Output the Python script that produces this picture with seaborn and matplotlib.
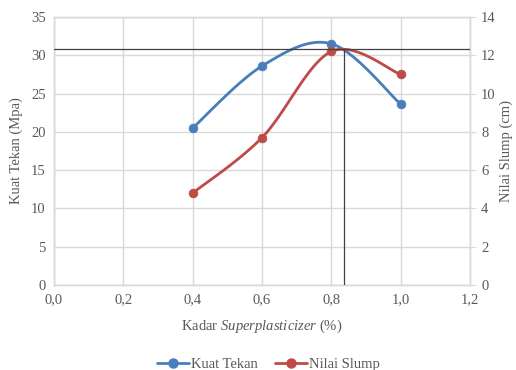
import numpy as np
import matplotlib
matplotlib.use("Agg")
import matplotlib.pyplot as plt
from matplotlib.lines import Line2D
from matplotlib.ticker import FuncFormatter
import seaborn as sns

# data
kadar = [0.4, 0.6, 0.8, 1.0]
kuat_tekan = [20.5, 28.6, 31.5, 23.6]
nilai_slump = [4.8, 7.7, 12.2, 11.0]
ref_x = 0.835
ref_y = 30.8   # on the Kuat Tekan scale

blue = "#4A7EBB"
red = "#BE4B48"
grid_c = "#D9D9D9"
text_c = "#595959"

sns.set_style("white")
plt.rcParams["font.family"] = ["Liberation Serif", "DejaVu Serif"]
plt.rcParams["mathtext.fontset"] = "custom"
plt.rcParams["mathtext.rm"] = "Liberation Serif"
plt.rcParams["mathtext.it"] = "Liberation Serif:italic"


def smooth(x, y, n=40):
    # Excel style smoothed line (Catmull-Rom as cubic Bezier)
    p = np.column_stack([x, y]).astype(float)
    p = np.vstack([p[0], p, p[-1]])
    t = np.linspace(0, 1, n)[:, None]
    out = []
    for i in range(1, len(p) - 2):
        p0, p1, p2, p3 = p[i - 1], p[i], p[i + 1], p[i + 2]
        b1 = p1 + (p2 - p0) / 6
        b2 = p2 - (p3 - p1) / 6
        seg = ((1 - t) ** 3) * p1 + 3 * ((1 - t) ** 2) * t * b1 + 3 * (1 - t) * t ** 2 * b2 + t ** 3 * p2
        out.append(seg)
    c = np.vstack(out)
    return c[:, 0], c[:, 1]


fig, ax = plt.subplots(figsize=(5.16, 3.70), dpi=100)
fig.subplots_adjust(left=0.1047, right=0.911, top=0.954, bottom=0.23)
ax2 = ax.twinx()

sx, sy = smooth(kadar, kuat_tekan)
sns.lineplot(x=sx, y=sy, ax=ax, color=blue, lw=2.0, sort=False, estimator=None)
sns.scatterplot(x=kadar, y=kuat_tekan, ax=ax, color=blue, s=40, edgecolor=blue, zorder=3)

sx, sy = smooth(kadar, nilai_slump)
sns.lineplot(x=sx, y=sy, ax=ax2, color=red, lw=2.0, sort=False, estimator=None)
sns.scatterplot(x=kadar, y=nilai_slump, ax=ax2, color=red, s=40, edgecolor=red, zorder=3)

# reference lines
ax2.plot([0, 1.2], [ref_y * 14 / 35] * 2, color="#404040", lw=0.9, zorder=5)
ax2.plot([ref_x, ref_x], [0, ref_y * 14 / 35], color="#404040", lw=0.9, zorder=5)

ax.set_xlim(0, 1.2)
ax.set_ylim(0, 35)
ax2.set_ylim(0, 14)
ax.set_xticks(np.arange(0, 1.21, 0.2))
ax.set_yticks(np.arange(0, 36, 5))
ax2.set_yticks(np.arange(0, 15, 2))
ax.xaxis.set_major_formatter(FuncFormatter(lambda v, _: f"{v:.1f}".replace(".", ",")))

ax.grid(True, color=grid_c, lw=1.0)
ax.set_axisbelow(True)
for a in (ax, ax2):
    for s in a.spines.values():
        s.set_color(grid_c)
        s.set_linewidth(1.0)
    a.tick_params(labelsize=10.5, labelcolor=text_c)
ax.tick_params(axis="both", length=0, pad=6)
ax2.tick_params(axis="y", length=4, color=grid_c, pad=4)

ax.set_xlabel(r"Kadar $\mathit{Superplasticizer}$ (%)", fontsize=10.5, color=text_c, labelpad=8)
ax.set_ylabel("Kuat Tekan (Mpa)", fontsize=10.5, color=text_c, labelpad=6)
ax2.set_ylabel("Nilai Slump (cm)", fontsize=10.5, color=text_c, rotation=90, labelpad=3)

handles = [
    Line2D([], [], color=blue, lw=2.0, marker="o", ms=6.5),
    Line2D([], [], color=red, lw=2.0, marker="o", ms=6.5),
]
if ax.get_legend():
    ax.get_legend().remove()
if ax2.get_legend():
    ax2.get_legend().remove()
fig.legend(handles, ["Kuat Tekan", "Nilai Slump"], loc="center", bbox_to_anchor=(0.52, 0.014),
           ncol=2, frameon=False, fontsize=10.5, handlelength=2.2, handletextpad=0.1,
           columnspacing=1.2, labelcolor=text_c)

fig.savefig("out.png", dpi=100)
